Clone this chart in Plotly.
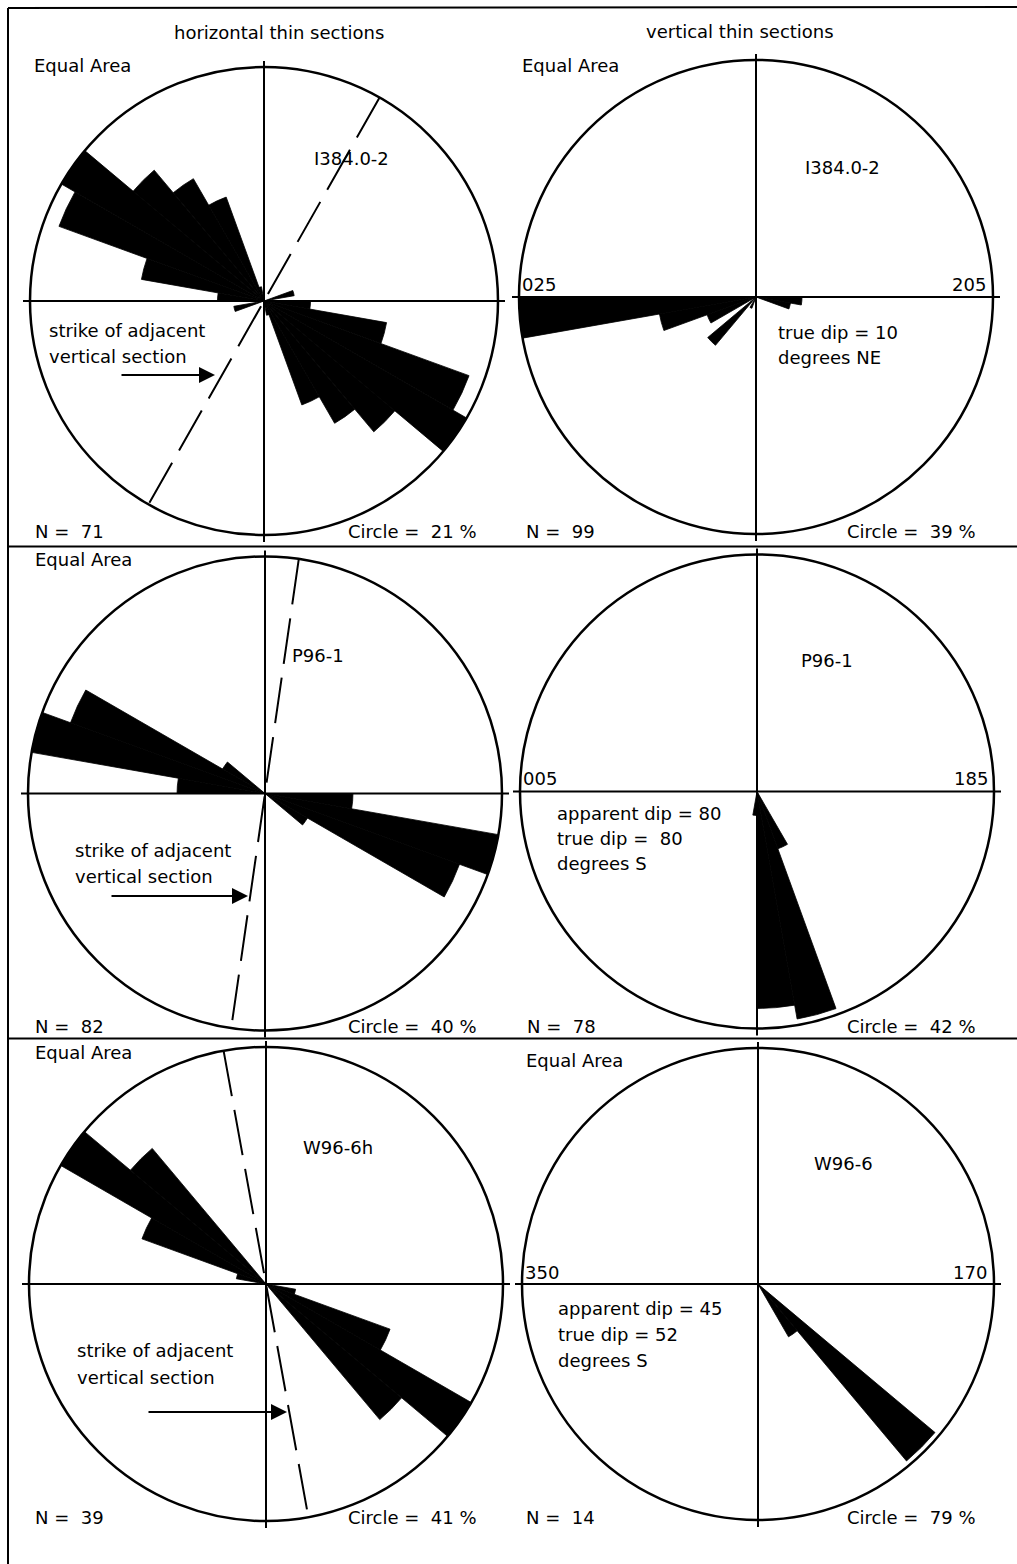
import plotly.graph_objects as go
import numpy as np

W, H = 1017, 1564
FONT = "DejaVu Sans"
FS = 18
NB = "\u00a0"

# ---------------- data (percent of measurements, 10 degree bins, lower bin edge) -------------
# horizontal sections: axial azimuths (0-180), plotted bidirectionally
h1_bins = [70, 90, 100, 110, 120, 130, 140, 150, 160]
h1_pct = [0.36, 0.83, 5.94, 18.26, 21.0, 11.19, 7.65, 4.69, 0.08]
h1_circle = 21
h1_n = 71
h1_strike = 29.6
h1_name = "I384.0-2"

h2_bins = [90, 100, 110, 120]
h2_pct = [5.51, 40.0, 30.5, 1.71]
h2_circle = 40
h2_n = 82
h2_strike = 8.2
h2_name = "P96-1"

h3_bins = [100, 110, 120, 130]
h3_pct = [0.66, 12.72, 41.0, 22.87]
h3_circle = 41
h3_n = 39
h3_strike = 349.7
h3_name = "W96-6h"

# vertical sections: angle measured from the left end of the section line, downwards
v1_bins = [0, 10, 20, 40, 60, 160, 170]
v1_pct = [39.0, 6.67, 1.88, 2.76, 0.10, 0.85, 1.47]
v1_circle = 39
v1_n = 99
v1_ends = ["025", "205"]
v1_name = "I384.0-2"
v1_notes = ["true dip = 10", "degrees NE"]

v2_bins = [80, 90, 100, 110]
v2_pct = [0.43, 35.2, 39.9, 2.78]
v2_circle = 42
v2_n = 78
v2_ends = ["005", "185"]
v2_name = "P96-1"
v2_notes = ["apparent dip = 80", "true dip =" + NB + NB + "80", "degrees S"]

v3_bins = [120, 130]
v3_pct = [5.28, 75.7]
v3_circle = 79
v3_n = 14
v3_ends = ["350", "170"]
v3_name = "W96-6"
v3_notes = ["apparent dip = 45", "true dip = 52", "degrees S"]

# ---------------- layout geometry (pixels) ----------------
panels = [
    dict(kind="h", cx=264, cy=301, R=234, bins=h1_bins, pct=h1_pct, circ=h1_circle, n=h1_n,
         strike=h1_strike, name=h1_name),
    dict(kind="v", cx=756, cy=297, R=237, bins=v1_bins, pct=v1_pct, circ=v1_circle, n=v1_n,
         ends=v1_ends, name=v1_name, notes=v1_notes),
    dict(kind="h", cx=265, cy=793.5, R=237, bins=h2_bins, pct=h2_pct, circ=h2_circle, n=h2_n,
         strike=h2_strike, name=h2_name),
    dict(kind="v", cx=757, cy=791.5, R=237, bins=v2_bins, pct=v2_pct, circ=v2_circle, n=v2_n,
         ends=v2_ends, name=v2_name, notes=v2_notes),
    dict(kind="h", cx=266, cy=1284, R=237, bins=h3_bins, pct=h3_pct, circ=h3_circle, n=h3_n,
         strike=h3_strike, name=h3_name),
    dict(kind="v", cx=758, cy=1284, R=236, bins=v3_bins, pct=v3_pct, circ=v3_circle, n=v3_n,
         ends=v3_ends, name=v3_name, notes=v3_notes),
]

fig = go.Figure()
shapes = []
annotations = []


def px(x):
    return x / W


def py(y):
    return 1 - y / H


def text(x, y, s, xanchor="left", size=FS):
    annotations.append(dict(x=px(x), y=py(y), xref="paper", yref="paper", text=s,
                            showarrow=False, xanchor=xanchor, yanchor="middle",
                            font=dict(family=FONT, size=size, color="black")))


def line(x0, y0, x1, y1, w=2):
    shapes.append(dict(type="line", xref="paper", yref="paper", x0=px(x0), y0=py(y0),
                       x1=px(x1), y1=py(y1), line=dict(color="black", width=w)))


for i, p in enumerate(panels):
    pid = "polar" if i == 0 else f"polar{i + 1}"
    sub = "polar" if i == 0 else f"polar{i + 1}"
    cx, cy, R = p["cx"], p["cy"], p["R"]
    rmax = np.sqrt(p["circ"])
    if p["kind"] == "h":
        theta = [b + 5 for b in p["bins"]] + [b + 185 for b in p["bins"]]
        r = list(np.sqrt(p["pct"])) * 2
        rot, direc = 90, "clockwise"
    else:
        theta = [b + 5 for b in p["bins"]]
        r = list(np.sqrt(p["pct"]))
        rot, direc = 180, "counterclockwise"
    fig.add_trace(go.Barpolar(r=r, theta=theta, width=[10] * len(theta), subplot=sub,
                              marker=dict(color="black", line=dict(width=0.8, color="black")),
                              showlegend=False, hoverinfo="skip"))
    if p["kind"] == "h":
        s = p["strike"]
        fig.add_trace(go.Scatterpolar(r=[rmax, 0, rmax], theta=[s, s, s + 180], mode="lines",
                                      subplot=sub, showlegend=False, hoverinfo="skip",
                                      line=dict(color="black", width=2, dash="46px,14px")))
    fig.update_layout(**{pid: dict(
        domain=dict(x=[px(cx - R), px(cx + R)], y=[py(cy + R), py(cy - R)]),
        bgcolor="rgba(0,0,0,0)",
        radialaxis=dict(visible=False, range=[0, rmax]),
        angularaxis=dict(rotation=rot, direction=direc, showgrid=False, ticks="",
                         showticklabels=False, showline=True, linecolor="black",
                         linewidth=2.5),
    )})
    # cross lines
    line(cx - R - 7, cy, cx + R + 7, cy)
    line(cx, cy - R - 6, cx, cy + R + 7)

# frame
line(8, 8, W, 7)
line(8, 8, 8, H)
line(8, 546.5, W, 546.5)
line(8, 1038.5, W, 1038.5)

# titles
text(279, 32, "horizontal thin sections", "center")
text(740, 31, "vertical thin sections", "center")

# panel texts
P1, P2, P3, P4, P5, P6 = panels
sp = NB + NB
text(32, 65, "Equal Area")
text(351, 158, P1["name"], "center")
text(47, 330, "strike of adjacent")
text(47, 356, "vertical section")
text(33, 531, "N =" + sp + str(P1["n"]))
text(346, 531, "Circle =" + sp + str(P1["circ"]) + " %")

text(520, 65, "Equal Area")
text(842, 168, P2["name"], "center")
text(520, 284, P2["ends"][0])
text(988, 284, P2["ends"][1], "right")
text(776, 332, P2["notes"][0])
text(776, 357, P2["notes"][1])
text(524, 531, "N =" + sp + str(P2["n"]))
text(845, 531, "Circle =" + sp + str(P2["circ"]) + " %")

text(33, 560, "Equal Area")
text(318, 655, P3["name"], "center")
text(73, 850, "strike of adjacent")
text(73, 876, "vertical section")
text(33, 1026, "N =" + sp + str(P3["n"]))
text(346, 1026, "Circle =" + sp + str(P3["circ"]) + " %")

text(827, 660, P4["name"], "center")
text(521, 778, P4["ends"][0])
text(990, 778, P4["ends"][1], "right")
for k, s in enumerate(P4["notes"]):
    text(555, 813 + 25.5 * k, s)
text(525, 1026, "N =" + sp + str(P4["n"]))
text(845, 1026, "Circle =" + sp + str(P4["circ"]) + " %")

text(33, 1052, "Equal Area")
text(338, 1147, P5["name"], "center")
text(75, 1350, "strike of adjacent")
text(75, 1377, "vertical section")
text(33, 1517, "N =" + sp + str(P5["n"]))
text(346, 1517, "Circle =" + sp + str(P5["circ"]) + " %")

text(524, 1060, "Equal Area")
text(843, 1163, P6["name"], "center")
text(523, 1272, P6["ends"][0])
text(989, 1272, P6["ends"][1], "right")
for k, s in enumerate(P6["notes"]):
    text(556, 1308 + 26 * k, s)
text(524, 1517, "N =" + sp + str(P6["n"]))
text(845, 1517, "Circle =" + sp + str(P6["circ"]) + " %")

# arrows pointing at the strike lines
for (x0, x1, y) in [(120, 215, 375), (110, 248, 896), (147, 287, 1412)]:
    annotations.append(dict(x=px(x1), y=py(y), xref="paper", yref="paper", ax=x0 - x1, ay=0,
                            axref="pixel", ayref="pixel", text="", showarrow=True,
                            arrowhead=2, arrowsize=1.6, arrowwidth=2, arrowcolor="black"))

fig.update_layout(width=W, height=H, autosize=False, margin=dict(l=0, r=0, t=0, b=0),
                  paper_bgcolor="white", plot_bgcolor="white",
                  shapes=shapes, annotations=annotations, showlegend=False)

fig.write_html("out.html", config=dict(displayModeBar=False))
